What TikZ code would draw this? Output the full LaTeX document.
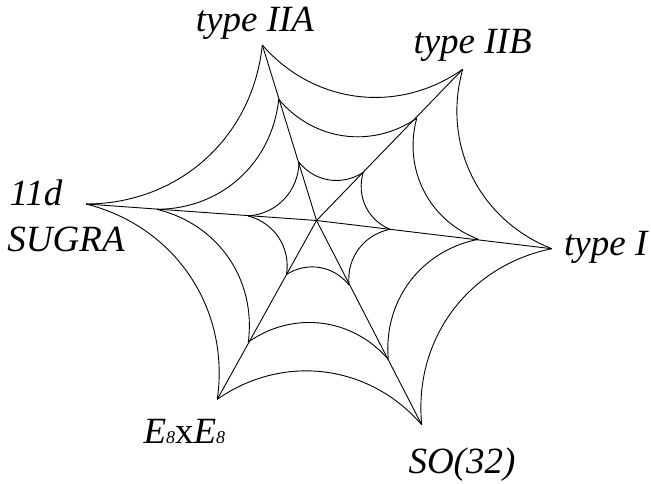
\documentclass[tikz,border=0pt]{standalone}
\usepackage{fontspec}
\setmainfont{Liberation Serif}
\begin{document}
\begin{tikzpicture}[x=1pt,y=1pt,
  web/.style={line width=0.9pt, black},
  arc/.style={web, bend right=42},
  lbl/.style={font=\fontsize{37}{45.7}\selectfont\itshape, inner sep=0pt, anchor=base west},
  subn/.style={}]
\useasboundingbox (0,0) rectangle (651,-484);
% centre
\coordinate (C) at (316.5,-220.5);
% outer ring (vertices)
\coordinate (A) at (262.3,-45);
\coordinate (B) at (462.7,-69.3);
\coordinate (I) at (551.7,-248.7);
\coordinate (S) at (421.7,-424.7);
\coordinate (E) at (217.3,-399.3);
\coordinate (D) at (86,-204);
% middle ring
\coordinate (A2) at (278.7,-99.3);
\coordinate (B2) at (416.7,-118.3);
\coordinate (I2) at (478.3,-239.3);
\coordinate (S2) at (388.3,-359.3);
\coordinate (E2) at (248.3,-342);
\coordinate (D2) at (156.7,-209.3);
% inner ring
\coordinate (A1) at (299,-162.3);
\coordinate (B1) at (363.3,-172.3);
\coordinate (I1) at (390,-229.3);
\coordinate (S1) at (349,-285);
\coordinate (E1) at (286.5,-274.5);
\coordinate (D1) at (248.3,-216);
% spokes
\foreach \v in {A,B,I,S,E,D} \draw[web] (C) -- (\v);
% rings
\foreach \r in {,2,1} {
  \draw[web] (D\r) to[bend right=42] (A\r);
  \draw[web] (A\r) to[bend right=42] (B\r);
  \draw[web] (B\r) to[bend right=42] (I\r);
  \draw[web] (I\r) to[bend right=42] (S\r);
  \draw[web] (S\r) to[bend right=42] (E\r);
  \draw[web] (E\r) to[bend right=42] (D\r);
}
% labels
\node[lbl] (lA) at (195.7,-31.7) {type IIA};
\node[lbl] (lB) at (413.3,-53.3) {type IIB};
\node[lbl] (lI) at (564,-255) {type I};
\node[lbl] (lD) at (9.3,-206) {11d};
\node[lbl] (lG) at (7.3,-251.7) {SUGRA};
\node[lbl] (lE) at (143.3,-443.3) {E{\fontsize{18}{18}\selectfont 8}\textup{x}E{\fontsize{18}{18}\selectfont 8}};
\node[lbl] (lS) at (408.3,-473.3) {SO(32)};
\end{tikzpicture}
\end{document}
